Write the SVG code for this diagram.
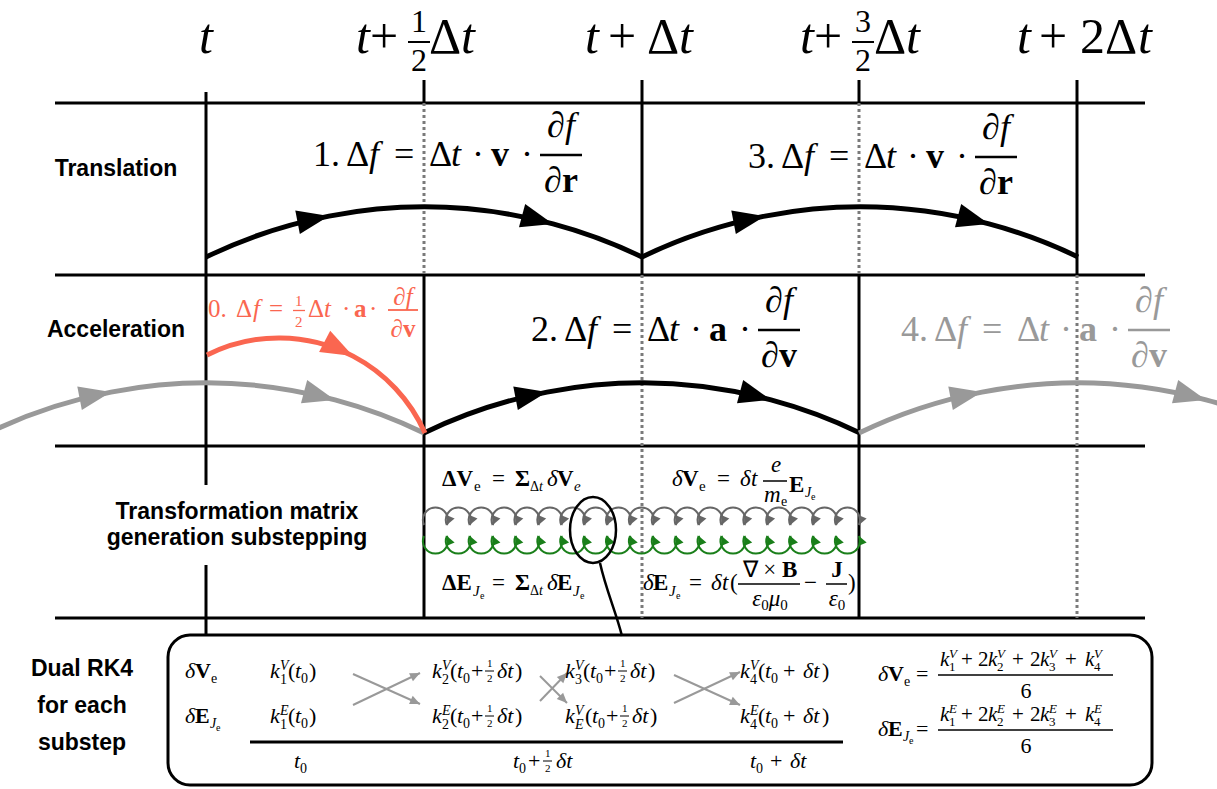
<svg xmlns="http://www.w3.org/2000/svg" width="1217" height="789" viewBox="0 0 1217 789">
<style>
.ln{stroke:#000;stroke-width:3;fill:none}
.dt{stroke:#7a7a7a;stroke-width:3;stroke-dasharray:3 3;fill:none}
.arcB{stroke:#000;stroke-width:5;fill:none;marker-mid:url(#ahB)}
.arcG{stroke:#999;stroke-width:5;fill:none;marker-mid:url(#ahG)}
.arcR{stroke:#FA6650;stroke-width:5;fill:none;marker-mid:url(#ahR)}
.m{font-family:"Liberation Serif","Times New Roman",serif}
.i{font-style:italic}
.b{font-weight:bold}
.lbl{font-family:"Liberation Sans",Arial,Helvetica,sans-serif;font-weight:bold;font-size:23px;text-anchor:middle}
.bar{stroke:#000;stroke-width:2.5}
.sm{stroke:#999;stroke-width:2;fill:none;marker-end:url(#sa)}
</style>
<defs>
<marker id="ahB" markerUnits="userSpaceOnUse" viewBox="-34 -14 36 28" markerWidth="36" markerHeight="28" refX="0" refY="0" orient="auto"><path d="M-32,-12 L0,0 L-32,12 Z" fill="#000"/></marker>
<marker id="ahG" markerUnits="userSpaceOnUse" viewBox="-34 -14 36 28" markerWidth="36" markerHeight="28" refX="0" refY="0" orient="auto"><path d="M-32,-12 L0,0 L-32,12 Z" fill="#999"/></marker>
<marker id="ahR" markerUnits="userSpaceOnUse" viewBox="-34 -14 36 28" markerWidth="36" markerHeight="28" refX="0" refY="0" orient="auto"><path d="M-32,-12 L0,0 L-32,12 Z" fill="#FA6650"/></marker>
<marker id="hg" markerUnits="userSpaceOnUse" viewBox="-10 -5 11 10" markerWidth="11" markerHeight="10" refX="0" refY="0" orient="auto"><path d="M-9,-4.5 L0,0 L-9,4.5 Z" fill="#666"/></marker>
<marker id="hv" markerUnits="userSpaceOnUse" viewBox="-10 -5 11 10" markerWidth="11" markerHeight="10" refX="0" refY="0" orient="auto"><path d="M-9,-4.5 L0,0 L-9,4.5 Z" fill="#1a7f1a"/></marker>
<marker id="sa" markerUnits="userSpaceOnUse" viewBox="-11 -5 12 10" markerWidth="12" markerHeight="10" refX="0" refY="0" orient="auto"><path d="M-10,-4.5 L0,0 L-10,4.5 Z" fill="#999"/></marker>
<path id="humpG" d="M0 0 A12.5 12.5 0 1 1 22.89 0" fill="none" stroke="#666" stroke-width="2" marker-end="url(#hg)"/>
<path id="humpV" d="M0 0 A12.5 12.5 0 1 0 22.89 0" fill="none" stroke="#1a7f1a" stroke-width="2" marker-end="url(#hv)"/>
</defs>
<rect width="1217" height="789" fill="#fff"/>

<g id="grid">
<line class="ln" x1="55" y1="103" x2="1145" y2="103"/>
<line class="ln" x1="55" y1="275" x2="1145" y2="275"/>
<line class="ln" x1="55" y1="446" x2="1145" y2="446"/>
<line class="ln" x1="55" y1="618" x2="1145" y2="618"/>
<line class="ln" x1="206" y1="92" x2="206" y2="485"/>
<line class="ln" x1="206" y1="565" x2="206" y2="636"/>
<line class="ln" x1="424" y1="80" x2="424" y2="103"/>
<line class="dt" x1="424" y1="103" x2="424" y2="275"/>
<line class="ln" x1="424" y1="275" x2="424" y2="618"/>
<line class="ln" x1="642" y1="80" x2="642" y2="275"/>
<line class="dt" x1="642" y1="275" x2="642" y2="618"/>
<line class="ln" x1="859" y1="80" x2="859" y2="103"/>
<line class="dt" x1="859" y1="103" x2="859" y2="275"/>
<line class="ln" x1="859" y1="275" x2="859" y2="618"/>
<line class="ln" x1="1077" y1="80" x2="1077" y2="275"/>
<line class="dt" x1="1077" y1="275" x2="1077" y2="618"/>
</g>

<g id="time-labels" class="m" font-size="50">
<text x="199" y="53" class="i">t</text>
<text y="53"><tspan x="356" class="i">t</tspan><tspan x="370">+</tspan><tspan x="429">Δ</tspan><tspan x="461" class="i">t</tspan></text>
<text x="411" y="32" font-size="32">1</text>
<line x1="408" y1="42" x2="430" y2="42" stroke="#000" stroke-width="2"/>
<text x="411" y="71" font-size="32">2</text>
<text y="53"><tspan x="585" class="i">t</tspan><tspan x="608">+</tspan><tspan x="647">Δ</tspan><tspan x="679" class="i">t</tspan></text>
<text y="53"><tspan x="800" class="i">t</tspan><tspan x="814">+</tspan><tspan x="874">Δ</tspan><tspan x="906" class="i">t</tspan></text>
<text x="855" y="32" font-size="32">3</text>
<line x1="852" y1="42" x2="874" y2="42" stroke="#000" stroke-width="2"/>
<text x="855" y="71" font-size="32">2</text>
<text y="53"><tspan x="1017" class="i">t</tspan><tspan x="1039">+</tspan><tspan x="1080">2</tspan><tspan x="1105">Δ</tspan><tspan x="1138" class="i">t</tspan></text>
</g>

<g id="row-labels">
<text class="lbl" x="116" y="176">Translation</text>
<text class="lbl" x="116" y="337">Acceleration</text>
<text class="lbl" x="237" y="519">Transformation matrix</text>
<text class="lbl" x="237" y="545">generation substepping</text>
<text class="lbl" x="82" y="676">Dual RK4</text>
<text class="lbl" x="82" y="713">for each</text>
<text class="lbl" x="82" y="750">substep</text>
</g>

<g id="connectors">
<path class="arcB" d="M206 257 A500 500 0 0 1 329 216.1 A500 500 0 0 1 553 223.9 A500 500 0 0 1 642 257"/>
<path class="arcB" d="M642 257 A500 500 0 0 1 765 216.1 A500 500 0 0 1 989 223.9 A500 500 0 0 1 1078 257"/>
<path class="arcG" d="M-12 433 A500 500 0 0 1 111 392.1 A500 500 0 0 1 335 399.9 A500 500 0 0 1 424 433"/>
<path class="arcB" d="M424 433 A500 500 0 0 1 547 392.1 A500 500 0 0 1 771 399.9 A500 500 0 0 1 860 433"/>
<path class="arcG" d="M859 433 A500 500 0 0 1 982 392.1 A500 500 0 0 1 1206 399.9 A500 500 0 0 1 1295 433"/>
<path class="arcR" d="M207 355 A160 160 0 0 1 353 356.1 A160 160 0 0 1 425 433"/>
<g id="substeps-V">
<use href="#humpG" x="424" y="525"/><use href="#humpG" x="446.89" y="525"/><use href="#humpG" x="469.78" y="525"/><use href="#humpG" x="492.67" y="525"/><use href="#humpG" x="515.56" y="525"/><use href="#humpG" x="538.45" y="525"/><use href="#humpG" x="561.34" y="525"/><use href="#humpG" x="584.23" y="525"/><use href="#humpG" x="607.12" y="525"/><use href="#humpG" x="630.01" y="525"/><use href="#humpG" x="652.9" y="525"/><use href="#humpG" x="675.79" y="525"/><use href="#humpG" x="698.68" y="525"/><use href="#humpG" x="721.57" y="525"/><use href="#humpG" x="744.46" y="525"/><use href="#humpG" x="767.35" y="525"/><use href="#humpG" x="790.24" y="525"/><use href="#humpG" x="813.13" y="525"/><use href="#humpG" x="836.02" y="525"/>
</g>
<g id="substeps-E">
<use href="#humpV" x="424" y="536"/><use href="#humpV" x="446.89" y="536"/><use href="#humpV" x="469.78" y="536"/><use href="#humpV" x="492.67" y="536"/><use href="#humpV" x="515.56" y="536"/><use href="#humpV" x="538.45" y="536"/><use href="#humpV" x="561.34" y="536"/><use href="#humpV" x="584.23" y="536"/><use href="#humpV" x="607.12" y="536"/><use href="#humpV" x="630.01" y="536"/><use href="#humpV" x="652.9" y="536"/><use href="#humpV" x="675.79" y="536"/><use href="#humpV" x="698.68" y="536"/><use href="#humpV" x="721.57" y="536"/><use href="#humpV" x="744.46" y="536"/><use href="#humpV" x="767.35" y="536"/><use href="#humpV" x="790.24" y="536"/><use href="#humpV" x="813.13" y="536"/><use href="#humpV" x="836.02" y="536"/>
</g>
<ellipse cx="593" cy="530" rx="23" ry="33" fill="none" stroke="#000" stroke-width="2.5"/>
<path d="M600 563 C606 590 616 612 622 636" fill="none" stroke="#000" stroke-width="2.5"/>
<line class="sm" x1="353" y1="674" x2="420" y2="704"/>
<line class="sm" x1="353" y1="705" x2="420" y2="673"/>
<line class="sm" x1="540" y1="676" x2="567" y2="703"/>
<line class="sm" x1="540" y1="701" x2="567" y2="673"/>
<line class="sm" x1="674" y1="675" x2="740" y2="705"/>
<line class="sm" x1="674" y1="703" x2="740" y2="672"/>
</g>

<g id="eq1" class="m" font-size="36">
<text y="166"><tspan x="313">1.</tspan><tspan x="346">Δ</tspan><tspan x="369" class="i">f</tspan><tspan x="394">=</tspan><tspan x="429">Δ</tspan><tspan x="451" class="i">t</tspan><tspan x="472">·</tspan><tspan x="491" class="b">v</tspan><tspan x="521">·</tspan></text>
<line class="bar" x1="540" y1="155" x2="582" y2="155"/>
<text x="561" y="137" text-anchor="middle" class="i">∂f</text>
<text x="561" y="192" text-anchor="middle"><tspan class="i">∂</tspan><tspan class="b">r</tspan></text>
</g>
<g id="eq3" class="m" font-size="36" transform="translate(435,2)">
<text y="166"><tspan x="313">3.</tspan><tspan x="346">Δ</tspan><tspan x="369" class="i">f</tspan><tspan x="394">=</tspan><tspan x="429">Δ</tspan><tspan x="451" class="i">t</tspan><tspan x="472">·</tspan><tspan x="491" class="b">v</tspan><tspan x="521">·</tspan></text>
<line class="bar" x1="540" y1="155" x2="582" y2="155"/>
<text x="561" y="137" text-anchor="middle" class="i">∂f</text>
<text x="561" y="192" text-anchor="middle"><tspan class="i">∂</tspan><tspan class="b">r</tspan></text>
</g>
<g id="eq2" class="m" font-size="36" transform="translate(218,175)">
<text y="166"><tspan x="313">2.</tspan><tspan x="346">Δ</tspan><tspan x="369" class="i">f</tspan><tspan x="394">=</tspan><tspan x="429">Δ</tspan><tspan x="451" class="i">t</tspan><tspan x="472">·</tspan><tspan x="491" class="b">a</tspan><tspan x="521">·</tspan></text>
<line class="bar" x1="540" y1="155" x2="582" y2="155"/>
<text x="561" y="137" text-anchor="middle" class="i">∂f</text>
<text x="561" y="192" text-anchor="middle"><tspan class="i">∂</tspan><tspan class="b">v</tspan></text>
</g>
<g id="eq4" class="m" font-size="36" fill="#999" transform="translate(588,175)">
<text y="166"><tspan x="313">4.</tspan><tspan x="346">Δ</tspan><tspan x="369" class="i">f</tspan><tspan x="394">=</tspan><tspan x="429">Δ</tspan><tspan x="451" class="i">t</tspan><tspan x="472">·</tspan><tspan x="491" class="b">a</tspan><tspan x="521">·</tspan></text>
<line x1="540" y1="155" x2="582" y2="155" stroke="#999" stroke-width="2.5"/>
<text x="561" y="137" text-anchor="middle" class="i">∂f</text>
<text x="561" y="192" text-anchor="middle"><tspan class="i">∂</tspan><tspan class="b">v</tspan></text>
</g>
<g id="eq0" class="m" font-size="25" fill="#FA6650">
<text y="317"><tspan x="208">0.</tspan><tspan x="236">Δ</tspan><tspan x="253" class="i">f</tspan><tspan x="269">=</tspan><tspan x="308">Δ</tspan><tspan x="324" class="i">t</tspan><tspan x="342">·</tspan><tspan x="354" class="b">a</tspan><tspan x="369">·</tspan></text>
<text x="295" y="306" font-size="15">1</text>
<line x1="293" y1="310.5" x2="305" y2="310.5" stroke="#FA6650" stroke-width="1.3"/>
<text x="295" y="327" font-size="15">2</text>
<line x1="388" y1="310" x2="418" y2="310" stroke="#FA6650" stroke-width="1.8"/>
<text x="403" y="305" text-anchor="middle" class="i">∂f</text>
<text x="403" y="337" text-anchor="middle"><tspan class="i">∂</tspan><tspan class="b">v</tspan></text>
</g>

<g id="substep-eqs" class="m" font-size="23">
<text><tspan x="442" y="486" class="b">ΔV</tspan><tspan x="474" y="491" font-size="15">e</tspan><tspan x="492" y="486">=</tspan><tspan x="515" y="486" class="b">Σ</tspan><tspan x="530" y="491" font-size="14">Δ</tspan><tspan class="i" font-size="14">t</tspan><tspan x="547" y="486" class="i">δ</tspan><tspan x="557" y="486" class="b">V</tspan><tspan x="574" y="491" font-size="15" class="i">e</tspan></text>
<text><tspan x="672" y="486" class="i">δ</tspan><tspan x="682" y="486" class="b">V</tspan><tspan x="699" y="491" font-size="15">e</tspan><tspan x="717" y="486">=</tspan><tspan x="740" y="486" class="i">δ</tspan><tspan x="751" y="486" class="i">t</tspan><tspan x="771" y="472" class="i">e</tspan><tspan x="764" y="502" class="i">m</tspan><tspan x="781" y="506" font-size="14">e</tspan><tspan x="789" y="492" class="b">E</tspan><tspan x="805" y="497" font-size="14" class="i">J</tspan><tspan x="811" y="500" font-size="10">e</tspan></text>
<line x1="763" y1="481" x2="787" y2="481" stroke="#000" stroke-width="1.5"/>
<text><tspan x="442" y="590" class="b">ΔE</tspan><tspan x="473" y="596" font-size="15" class="i">J</tspan><tspan x="480" y="599" font-size="10">e</tspan><tspan x="492" y="590">=</tspan><tspan x="515" y="590" class="b">Σ</tspan><tspan x="530" y="595" font-size="14">Δ</tspan><tspan class="i" font-size="14">t</tspan><tspan x="547" y="590" class="i">δ</tspan><tspan x="557" y="590" class="b">E</tspan><tspan x="573" y="596" font-size="15" class="i">J</tspan><tspan x="580" y="599" font-size="10">e</tspan></text>
<text><tspan x="643" y="590" class="i">δ</tspan><tspan x="653" y="590" class="b">E</tspan><tspan x="669" y="596" font-size="15" class="i">J</tspan><tspan x="676" y="599" font-size="10">e</tspan><tspan x="689" y="590">=</tspan><tspan x="711" y="590" class="i">δ</tspan><tspan x="722" y="590" class="i">t</tspan><tspan x="730" y="590">(</tspan><tspan x="804" y="590">−</tspan><tspan x="848" y="590">)</tspan></text>
<line x1="738" y1="584" x2="800" y2="584" stroke="#000" stroke-width="1.5"/>
<text x="770" y="577" text-anchor="middle">∇ × <tspan class="b">B</tspan></text>
<text x="770" y="606" text-anchor="middle"><tspan class="i">ε</tspan><tspan font-size="15" dy="4">0</tspan><tspan class="i" dy="-4">μ</tspan><tspan font-size="15" dy="4">0</tspan></text>
<line x1="826" y1="584" x2="847" y2="584" stroke="#000" stroke-width="1.5"/>
<text x="837" y="577" text-anchor="middle" class="b">J</text>
<text x="837" y="606" text-anchor="middle"><tspan class="i">ε</tspan><tspan font-size="15" dy="4">0</tspan></text>
</g>

<g id="rk4-box" class="m" font-size="22">
<rect x="168" y="635" width="984" height="150" rx="22" fill="none" stroke="#000" stroke-width="3"/>
<text><tspan x="185" y="678" class="i">δ</tspan><tspan x="195" y="678" class="b">V</tspan><tspan x="211" y="683" font-size="14">e</tspan></text>
<text><tspan x="185" y="723" class="i">δ</tspan><tspan x="195" y="723" class="b">E</tspan><tspan x="210" y="728" font-size="14" class="i">J</tspan><tspan x="216" y="731" font-size="10">e</tspan></text>
<!-- row 1 -->
<text><tspan x="270" y="678" class="i">k</tspan><tspan x="280" y="670" font-size="14" class="i">V</tspan><tspan x="280" y="684" font-size="14">1</tspan><tspan x="288" y="678">(</tspan><tspan x="295" y="678" class="i">t</tspan><tspan x="301" y="683" font-size="14">0</tspan><tspan x="309" y="678">)</tspan></text>
<text><tspan x="432" y="678" class="i">k</tspan><tspan x="442" y="670" font-size="14" class="i">V</tspan><tspan x="442" y="684" font-size="14">2</tspan><tspan x="450" y="678">(</tspan><tspan x="457" y="678" class="i">t</tspan><tspan x="463" y="683" font-size="14">0</tspan><tspan x="471" y="678">+</tspan><tspan x="487" y="667" font-size="11">1</tspan><tspan x="487" y="682" font-size="11">2</tspan><tspan x="497" y="678" class="i">δt</tspan><tspan x="515" y="678">)</tspan></text>
<line x1="485" y1="671" x2="494" y2="671" stroke="#000" stroke-width="1"/>
<text><tspan x="565" y="678" class="i">k</tspan><tspan x="575" y="670" font-size="14" class="i">V</tspan><tspan x="575" y="684" font-size="14">3</tspan><tspan x="583" y="678">(</tspan><tspan x="590" y="678" class="i">t</tspan><tspan x="596" y="683" font-size="14">0</tspan><tspan x="604" y="678">+</tspan><tspan x="620" y="667" font-size="11">1</tspan><tspan x="620" y="682" font-size="11">2</tspan><tspan x="630" y="678" class="i">δt</tspan><tspan x="648" y="678">)</tspan></text>
<line x1="618" y1="671" x2="627" y2="671" stroke="#000" stroke-width="1"/>
<text><tspan x="740" y="678" class="i">k</tspan><tspan x="750" y="670" font-size="14" class="i">V</tspan><tspan x="750" y="684" font-size="14">4</tspan><tspan x="758" y="678">(</tspan><tspan x="765" y="678" class="i">t</tspan><tspan x="771" y="683" font-size="14">0</tspan><tspan x="783" y="678">+</tspan><tspan x="803" y="678" class="i">δt</tspan><tspan x="822" y="678">)</tspan></text>
<!-- row 2 -->
<text><tspan x="270" y="723" class="i">k</tspan><tspan x="280" y="715" font-size="14" class="i">E</tspan><tspan x="280" y="729" font-size="14">1</tspan><tspan x="288" y="723">(</tspan><tspan x="295" y="723" class="i">t</tspan><tspan x="301" y="728" font-size="14">0</tspan><tspan x="309" y="723">)</tspan></text>
<text><tspan x="432" y="723" class="i">k</tspan><tspan x="442" y="715" font-size="14" class="i">E</tspan><tspan x="442" y="729" font-size="14">2</tspan><tspan x="450" y="723">(</tspan><tspan x="457" y="723" class="i">t</tspan><tspan x="463" y="728" font-size="14">0</tspan><tspan x="471" y="723">+</tspan><tspan x="487" y="712" font-size="11">1</tspan><tspan x="487" y="727" font-size="11">2</tspan><tspan x="497" y="723" class="i">δt</tspan><tspan x="515" y="723">)</tspan></text>
<line x1="485" y1="716" x2="494" y2="716" stroke="#000" stroke-width="1"/>
<text><tspan x="565" y="723" class="i">k</tspan><tspan x="575" y="715" font-size="14" class="i">V</tspan><tspan x="575" y="729" font-size="14" class="i">E</tspan><tspan x="585" y="723">(</tspan><tspan x="592" y="723" class="i">t</tspan><tspan x="598" y="728" font-size="14">0</tspan><tspan x="606" y="723">+</tspan><tspan x="622" y="712" font-size="11">1</tspan><tspan x="622" y="727" font-size="11">2</tspan><tspan x="632" y="723" class="i">δt</tspan><tspan x="650" y="723">)</tspan></text>
<line x1="620" y1="716" x2="629" y2="716" stroke="#000" stroke-width="1"/>
<text><tspan x="740" y="723" class="i">k</tspan><tspan x="750" y="715" font-size="14" class="i">E</tspan><tspan x="750" y="729" font-size="14">4</tspan><tspan x="758" y="723">(</tspan><tspan x="765" y="723" class="i">t</tspan><tspan x="771" y="728" font-size="14">0</tspan><tspan x="783" y="723">+</tspan><tspan x="803" y="723" class="i">δt</tspan><tspan x="822" y="723">)</tspan></text>
<!-- axis -->
<line x1="250" y1="742" x2="843" y2="742" stroke="#000" stroke-width="3"/>
<text><tspan x="294" y="768" class="i">t</tspan><tspan x="300" y="773" font-size="14">0</tspan></text>
<text><tspan x="513" y="768" class="i">t</tspan><tspan x="519" y="773" font-size="14">0</tspan><tspan x="528" y="768">+</tspan><tspan x="545" y="757" font-size="11">1</tspan><tspan x="545" y="772" font-size="11">2</tspan><tspan x="556" y="768" class="i">δt</tspan></text>
<line x1="543" y1="761" x2="552" y2="761" stroke="#000" stroke-width="1"/>
<text><tspan x="750" y="768" class="i">t</tspan><tspan x="756" y="773" font-size="14">0</tspan><tspan x="770" y="768">+</tspan><tspan x="790" y="768" class="i">δt</tspan></text>
<!-- RK4 combination -->
<text><tspan x="878" y="681" class="i">δ</tspan><tspan x="888" y="681" class="b">V</tspan><tspan x="904" y="686" font-size="14">e</tspan><tspan x="916" y="681">=</tspan></text>
<line x1="938" y1="675" x2="1113" y2="675" stroke="#000" stroke-width="1.5"/>
<text font-size="21"><tspan x="940" y="666" class="i">k</tspan><tspan x="949" y="658" font-size="13" class="i">V</tspan><tspan x="949" y="671" font-size="13">1</tspan><tspan x="961" y="666">+</tspan><tspan x="978" y="666">2</tspan><tspan x="988" y="666" class="i">k</tspan><tspan x="997" y="658" font-size="13" class="i">V</tspan><tspan x="997" y="671" font-size="13">2</tspan><tspan x="1012" y="666">+</tspan><tspan x="1030" y="666">2</tspan><tspan x="1040" y="666" class="i">k</tspan><tspan x="1049" y="658" font-size="13" class="i">V</tspan><tspan x="1049" y="671" font-size="13">3</tspan><tspan x="1065" y="666">+</tspan><tspan x="1085" y="666" class="i">k</tspan><tspan x="1094" y="658" font-size="13" class="i">V</tspan><tspan x="1094" y="671" font-size="13">4</tspan></text>
<text x="1026" y="698" text-anchor="middle">6</text>
<text><tspan x="878" y="736" class="i">δ</tspan><tspan x="888" y="736" class="b">E</tspan><tspan x="903" y="741" font-size="14" class="i">J</tspan><tspan x="909" y="744" font-size="10">e</tspan><tspan x="916" y="736">=</tspan></text>
<line x1="938" y1="730" x2="1113" y2="730" stroke="#000" stroke-width="1.5"/>
<text font-size="21"><tspan x="940" y="721" class="i">k</tspan><tspan x="949" y="713" font-size="13" class="i">E</tspan><tspan x="949" y="726" font-size="13">1</tspan><tspan x="961" y="721">+</tspan><tspan x="978" y="721">2</tspan><tspan x="988" y="721" class="i">k</tspan><tspan x="997" y="713" font-size="13" class="i">E</tspan><tspan x="997" y="726" font-size="13">2</tspan><tspan x="1012" y="721">+</tspan><tspan x="1030" y="721">2</tspan><tspan x="1040" y="721" class="i">k</tspan><tspan x="1049" y="713" font-size="13" class="i">E</tspan><tspan x="1049" y="726" font-size="13">3</tspan><tspan x="1065" y="721">+</tspan><tspan x="1085" y="721" class="i">k</tspan><tspan x="1094" y="713" font-size="13" class="i">E</tspan><tspan x="1094" y="726" font-size="13">4</tspan></text>
<text x="1026" y="753" text-anchor="middle">6</text>
</g>
</svg>
